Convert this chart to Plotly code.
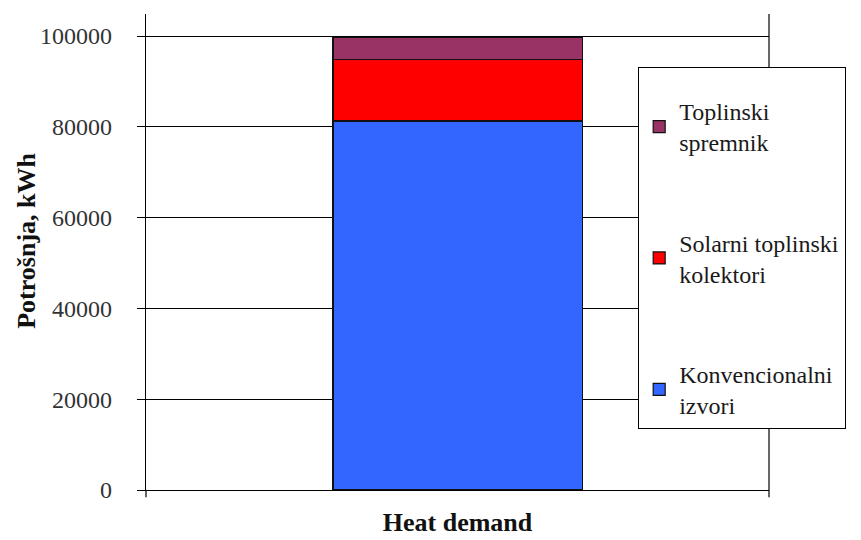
import plotly.graph_objects as go

categories = [""]
series_names = ["Konvencionalni<br>izvori", "Solarni toplinski<br>kolektori", "Toplinski<br>spremnik"]
series_values = [[81300], [13600], [4700]]
series_colors = ["#3366FF", "#FF0000", "#993366"]
legend_ranks = [3, 2, 1]
tick_vals = [0, 20000, 40000, 60000, 80000, 100000]
tick_text = ["0", "20000", "40000", "60000", "80000", "100000"]

FONT = "Liberation Serif, Times New Roman, serif"

fig = go.Figure()
for i, (name, vals, col, rk) in enumerate(zip(series_names, series_values, series_colors, legend_ranks)):
    fig.add_trace(go.Bar(
        x=categories, y=vals, name=name,
        marker=dict(color=col, line=dict(color="#111111", width=1.2)),
        width=0.4, legendgroup=f"g{i}", legendrank=rk,
    ))

# page body has an 8px default margin, so margins are offset by 8px
fig.update_layout(
    width=861, height=540,
    barmode="stack",
    paper_bgcolor="white", plot_bgcolor="white",
    margin=dict(l=138, r=100, t=6, b=58, autoexpand=False),
    font=dict(family=FONT, size=24, color="#222222"),
    showlegend=True,
    legend=dict(
        x=0.7897, y=0.889, xanchor="left", yanchor="top",
        bordercolor="#000000", borderwidth=1.2, bgcolor="white",
        traceorder="grouped", tracegroupgap=66,
        font=dict(family=FONT, size=24, color="#1a1a1a"),
        title=dict(text=" ", font=dict(size=16)),
        itemwidth=30,
    ),
    xaxis=dict(
        range=[-0.5, 0.5], showticklabels=False, showgrid=False,
        showline=True, linecolor="#000000", linewidth=1.2,
        title=dict(text="<b>Heat demand</b>", font=dict(family=FONT, size=26, color="#111111"), standoff=22),
        zeroline=False, automargin=False,
    ),
    yaxis=dict(
        range=[0, 104850], tickvals=tick_vals, ticktext=tick_text,
        showgrid=True, gridcolor="#000000", gridwidth=1,
        showline=True, linecolor="#000000", linewidth=1.2,
        ticks="outside", ticklen=8, tickcolor="#000000", tickwidth=1.2,
        ticklabelstandoff=20,
        tickfont=dict(family=FONT, size=24, color="#333333"),
        zeroline=False, automargin=False,
    ),
    annotations=[
        dict(text="<b>Potrošnja, kWh</b>", xref="paper", yref="paper",
             x=-0.193, y=0.523, xanchor="center", yanchor="middle", textangle=-90,
             showarrow=False, font=dict(family=FONT, size=26, color="#111111")),
    ],
    shapes=[
        dict(type="line", xref="paper", yref="paper", x0=1, x1=1, y0=-0.015, y1=1,
             line=dict(color="#000000", width=1.2)),
        dict(type="line", xref="paper", yref="paper", x0=0, x1=0, y0=-0.015, y1=0,
             line=dict(color="#000000", width=1.2)),
    ],
)

fig.write_html("out.html")
